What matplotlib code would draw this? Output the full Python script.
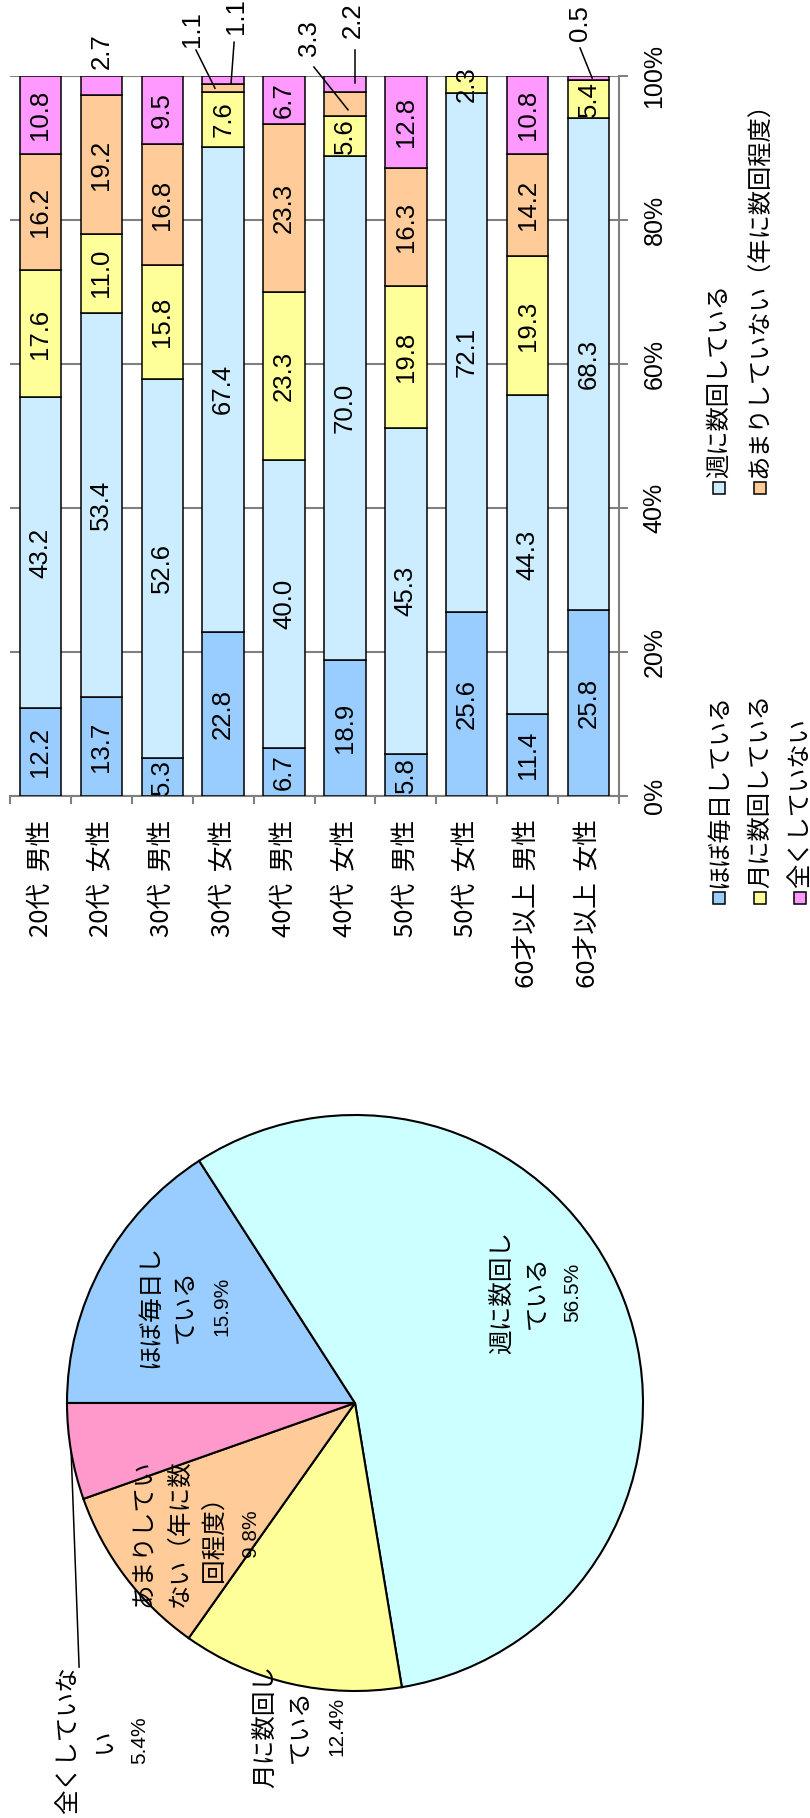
import matplotlib
matplotlib.use('Agg')
import matplotlib.pyplot as plt
from matplotlib.patches import Rectangle
from matplotlib.lines import Line2D
import numpy as np

# ---------------- data ----------------
categories = ['20代  男性', '20代  女性', '30代  男性', '30代  女性', '40代  男性',
              '40代  女性', '50代  男性', '50代  女性', '60才以上  男性', '60才以上  女性']
series_names = ['ほぼ毎日している', '週に数回している', '月に数回している',
                'あまりしていない（年に数回程度）', '全くしていない']
daily = [12.2, 13.7, 5.3, 22.8, 6.7, 18.9, 5.8, 25.6, 11.4, 25.8]
weekly = [43.2, 53.4, 52.6, 67.4, 40.0, 70.0, 45.3, 72.1, 44.3, 68.3]
monthly = [17.6, 11.0, 15.8, 7.6, 23.3, 5.6, 19.8, 2.3, 19.3, 5.4]
rarely = [16.2, 19.2, 16.8, 1.1, 23.3, 3.3, 16.3, 0.0, 14.2, 0.0]
never = [10.8, 2.7, 9.5, 1.1, 6.7, 2.2, 12.8, 0.0, 10.8, 0.5]
value_ticks = [0, 20, 40, 60, 80, 100]
value_tick_labels = ['0%', '20%', '40%', '60%', '80%', '100%']

pie_names = ['ほぼ毎日し\nている', '週に数回し\nている', '月に数回し\nている',
             'あまりしてい\nない（年に数\n回程度）', '全くしていな\nい']
pie_values = [15.9, 56.5, 12.4, 9.8, 5.4]

# ---------------- styles ----------------
bar_colors = ['#99CCFF', '#CCECFF', '#FFFF99', '#FFCC99', '#FF99FF']
pie_colors = ['#99CCFF', '#CCFFFF', '#FFFF99', '#FFCC99', '#FF99CC']
CJK = ['Noto Sans CJK JP', 'DejaVu Sans']
LAT = ['Liberation Sans', 'DejaVu Sans']
GRAY = '#808080'

W, H = 810, 1818
fig = plt.figure(figsize=(W / 100, H / 100), dpi=100)
fig.patch.set_facecolor('white')


def fx(x):
    return x / W


def fy(y):
    return 1 - y / H


# ---------------- stacked bars ----------------
axb = fig.add_axes([fx(10), fy(796), 609 / W, 720 / H])
series = [daily, weekly, monthly, rarely, never]
x = np.arange(len(categories))
bottom = np.zeros(len(categories))
for s_idx, (vals, col) in enumerate(zip(series, bar_colors)):
    vals = np.array(vals)
    axb.bar(x, vals, width=0.68, bottom=bottom, color=col, edgecolor='black',
            linewidth=1.1, zorder=3)
    bottom = bottom + vals

# data labels; small segments get labels outside with leader lines
outside = {  # (category, series): (label x, label y, leader start, leader end) in data units
    (1, 4): (1.0, 103.5, None, None),
    (3, 3): (2.49, 106.5, (2.554, 103.6), (2.866, 98.3)),
    (3, 4): (3.21, 108.3, (3.18, 104.7), (3.13, 99.0)),
    (5, 3): (4.41, 105.3, (4.49, 101.25), (5.05, 95.3)),
    (5, 4): (5.13, 107.8, (5.165, 103.6), (5.165, 99.0)),
    (9, 4): (8.86, 107.4, (8.86, 103.9), (9.06, 99.7)),
}
base = np.zeros(len(categories))
for s_idx, vals in enumerate(series):
    for c_idx, v in enumerate(vals):
        if v <= 0:
            continue
        key = (c_idx, s_idx)
        if key in outside:
            lx, ly, p0, p1 = outside[key]
            axb.text(lx, ly, f'{v:.1f}', rotation=90, ha='center', va='center',
                     fontsize=18.5, family=LAT, zorder=6, clip_on=False)
            if p0 is not None:
                axb.add_line(Line2D([p0[0], p1[0]], [p0[1], p1[1]], color='black',
                                    linewidth=1.1, zorder=6, clip_on=False))
        else:
            axb.text(c_idx, base[c_idx] + v / 2, f'{v:.1f}', rotation=90,
                     ha='center', va='center', fontsize=18.5, family=LAT, zorder=5)
    base = base + np.array(vals)

axb.set_xlim(-0.5, len(categories) - 0.5)
axb.set_ylim(0, 100)
axb.set_axisbelow(True)
axb.yaxis.tick_right()
axb.set_yticks(value_ticks)
axb.set_yticklabels(value_tick_labels, rotation=90, va='center', fontsize=18, family=LAT)
axb.tick_params(axis='y', direction='out', length=6.5, width=1.5, color=GRAY, pad=10.5)
axb.grid(axis='y', color=GRAY, linewidth=1.5)
axb.grid(axis='x', visible=False)
for side in ['left', 'top']:
    axb.spines[side].set_visible(False)
for side in ['right', 'bottom']:
    axb.spines[side].set_color(GRAY)
    axb.spines[side].set_linewidth(1.5)
axb.set_xticks(x)
axb.set_xticklabels(categories, rotation=90, ha='center', va='top', fontsize=18.5, family=CJK)
axb.tick_params(axis='x', which='major', length=0, pad=17)
axb.set_xticks(np.arange(-0.5, len(categories), 1.0), minor=True)
axb.tick_params(axis='x', which='minor', direction='out', length=6, width=1.5, color=GRAY)

# ---------------- legend (manual, rotated) ----------------
legend_slots = [(719, 898), (719, 488), (760, 898), (760, 488), (800, 898)]
sq = 12.6
for (lx, ly), name, col in zip(legend_slots, series_names, bar_colors):
    fig.add_artist(Rectangle((fx(lx - sq / 2), fy(ly + sq / 2)), sq / W, sq / H,
                             transform=fig.transFigure, facecolor=col,
                             edgecolor='black', linewidth=1.1))
    fig.text(fx(lx), fy(ly - sq / 2 - 4), name, rotation=90, ha='center', va='bottom',
             fontsize=17.5, family=CJK)

# ---------------- pie ----------------
R, cx, cy = 288, 355, 1403
ext = 1.3
axp = fig.add_axes([fx(cx - ext * R), fy(cy + ext * R), 2 * ext * R / W, 2 * ext * R / H])
wedges, _ = axp.pie(pie_values, colors=pie_colors, startangle=180, counterclock=False,
                    wedgeprops=dict(edgecolor='black', linewidth=1.5))
axp.set_xlim(-ext, ext)
axp.set_ylim(-ext, ext)
axp.set_aspect('equal')
axp.axis('off')

# first-line anchors of each pie label (data units of the pie axes)
pie_label_pos = [(-0.712, 0.337), (0.509, 0.385), (-0.3125, -1.1215),
                 (-0.733, -0.451), (-0.995, -1.172)]
pitch = 35.0 / R
for name, v, (ax0, ay0) in zip(pie_names, pie_values, pie_label_pos):
    lines = name.split('\n')
    for i, ln in enumerate(lines):
        axp.text(ax0 + i * pitch, ay0, ln, rotation=90, ha='center', va='center',
                 fontsize=17.7, family=CJK, zorder=5)
    axp.text(ax0 + len(lines) * pitch + 0.005, ay0, f'{v:.1f}%', rotation=90,
             ha='center', va='center', fontsize=15, family=LAT, zorder=5)

# leader line for the smallest slice
theta = np.deg2rad(180 - (sum(pie_values) - pie_values[-1] / 2) * 3.6)
axp.plot([-0.958, np.cos(theta)], [-0.917, np.sin(theta)], color='black', linewidth=1.1,
         zorder=4, clip_on=False)

fig.savefig('out.png', dpi=100, facecolor='white')
